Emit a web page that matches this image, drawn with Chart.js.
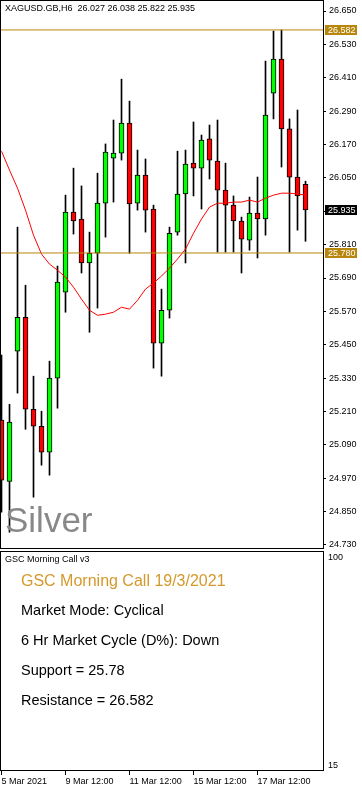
<!DOCTYPE html>
<html>
<head>
<meta charset="utf-8">
<script src="https://cdn.jsdelivr.net/npm/chart.js@4.4.0/dist/chart.umd.min.js"></script>
<style>
  body { margin: 0; width: 362px; height: 789px; background: #fff; position: relative; overflow: hidden;
         font-family: "Liberation Sans", Arial, sans-serif; }
  canvas { position: absolute; left: 0; }
  .txt { position: absolute; white-space: pre; line-height: 1; color: #000; }
</style>
</head>
<body>
<canvas id="priceChart" width="362" height="549" style="top:0"></canvas>
<canvas id="cycleChart" width="362" height="239" style="top:550px"></canvas>

<div class="txt" id="symbolLine" style="left:5px;top:4px;font-size:9px"></div>
<div class="txt" id="assetName" style="left:5px;top:502px;font-size:35px;color:#888"></div>
<div class="txt" id="panelName" style="left:5px;top:555px;font-size:9px"></div>
<div class="txt" id="callTitle" style="left:21px;top:573px;font-size:16px;color:#d4992a"></div>
<div class="txt" id="modeLine" style="left:21px;top:603px;font-size:14.5px"></div>
<div class="txt" id="cycleLine" style="left:21px;top:633px;font-size:14.5px"></div>
<div class="txt" id="supportLine" style="left:21px;top:663px;font-size:14.5px"></div>
<div class="txt" id="resistLine" style="left:21px;top:693px;font-size:14.5px"></div>

<script>
// XAGUSD H6 candles, 5 Mar 12:00 .. 19 Mar 00:00
const opens  = [25.179, 24.959, 25.427, 25.549, 25.218, 25.157, 25.064, 25.330, 25.639, 25.927,
                25.902, 25.744, 25.779, 25.959, 26.121, 26.139, 26.247, 25.959, 26.060, 25.938,
                25.456, 25.574, 25.855, 25.992, 26.103, 26.085, 26.190, 26.110, 26.006, 25.952,
                25.895, 25.826, 25.923, 25.902, 26.355, 26.477, 26.226, 26.053, 26.027];
const highs  = [25.413, 25.236, 25.873, 25.664, 25.337, 25.211, 25.391, 25.733, 25.988, 26.085,
                26.021, 25.855, 26.067, 26.172, 26.258, 26.405, 26.326, 26.150, 26.118, 25.952,
                25.650, 25.873, 26.146, 26.150, 26.251, 26.204, 26.240, 26.258, 26.103, 25.985,
                25.909, 25.981, 26.053, 26.470, 26.578, 26.582, 26.262, 26.294, 26.038];
const lows   = [24.848, 24.776, 25.276, 25.146, 24.902, 25.017, 24.981, 25.222, 25.567, 25.848,
                25.708, 25.495, 25.582, 25.837, 25.963, 26.114, 25.779, 25.934, 25.855, 25.366,
                25.337, 25.546, 25.844, 25.744, 25.985, 25.938, 26.046, 25.783, 25.783, 25.783,
                25.708, 25.790, 25.762, 25.844, 26.262, 26.089, 25.783, 25.862, 25.822];
const closes = [24.963, 25.172, 25.549, 25.218, 25.157, 25.064, 25.330, 25.675, 25.927, 25.895,
                25.744, 25.779, 25.959, 26.143, 26.139, 26.247, 25.956, 26.060, 25.934, 25.456,
                25.574, 25.851, 25.992, 26.100, 26.085, 26.186, 26.114, 26.006, 25.952, 25.895,
                25.830, 25.923, 25.902, 26.276, 26.477, 26.226, 26.053, 25.985, 25.935];
// red moving average
const maValues = [26.146, 26.078, 26.013, 25.934, 25.844, 25.776, 25.740, 25.718, 25.693, 25.657,
                  25.614, 25.574, 25.556, 25.560, 25.567, 25.585, 25.578, 25.610, 25.650, 25.672,
                  25.697, 25.726, 25.758, 25.794, 25.851, 25.902, 25.945, 25.959, 25.959, 25.963,
                  25.963, 25.970, 25.963, 25.977, 25.988, 25.995, 25.995, 25.992, 25.988];

const support = 25.78;
const resistance = 26.582;

const priceTicks = [26.650, 26.530, 26.410, 26.290, 26.170, 26.050, 25.930, 25.810, 25.690,
                    25.570, 25.450, 25.330, 25.210, 25.090, 24.970, 24.850, 24.730];
const timeTickIndex = [0, 8, 16, 24, 32];
const timeTickLabels = ['5 Mar 2021', '9 Mar 12:00', '11 Mar 12:00', '15 Mar 12:00', '17 Mar 12:00'];
const cycleTicks = [100, 15];

const symbol = 'XAGUSD.GB,H6';
const asset = 'Silver';
const panelName = 'GSC Morning Call v3';
const callDate = '19/3/2021';
const marketMode = 'Cyclical';
const cycleDir = 'Down';

// axis windows (px layout of the MT4 panels)
const xMin = -0.1875, xMax = 40.1875;
const yMin = 24.7156, yMax = 26.6896;
const cMin = 12.96, cMax = 102.86;

const gold = '#b8860b';
const last = closes.length - 1;

document.getElementById('symbolLine').textContent =
  symbol + '  ' + opens[last].toFixed(3) + ' ' + highs[last].toFixed(3) + ' ' +
  lows[last].toFixed(3) + ' ' + closes[last].toFixed(3);
document.getElementById('assetName').textContent = asset;
document.getElementById('panelName').textContent = panelName;
document.getElementById('callTitle').textContent = 'GSC Morning Call ' + callDate;
document.getElementById('modeLine').textContent = 'Market Mode: ' + marketMode;
document.getElementById('cycleLine').textContent = '6 Hr Market Cycle (D%): ' + cycleDir;
document.getElementById('supportLine').textContent = 'Support = ' + support;
document.getElementById('resistLine').textContent = 'Resistance = ' + resistance;

Chart.defaults.font.family = '"Liberation Sans", Arial, sans-serif';
Chart.defaults.font.size = 9;
Chart.defaults.color = '#000';

const panelFrame = {
  id: 'panelFrame',
  afterDraw(chart) {
    const { ctx, chartArea: a } = chart;
    ctx.save();
    ctx.strokeStyle = '#000';
    ctx.lineWidth = 1;
    ctx.strokeRect(a.left + 0.5, a.top + 0.5, a.right - a.left, a.bottom - a.top - 1);
    ctx.restore();
  }
};

const priceTags = {
  id: 'priceTags',
  afterDraw(chart) {
    const { ctx } = chart;
    const ys = chart.scales.y;
    const tags = [[resistance, gold], [closes[last], '#000'], [support, gold]];
    ctx.save();
    ctx.font = '9px "Liberation Sans", Arial, sans-serif';
    ctx.textBaseline = 'middle';
    tags.forEach(([v, bg]) => {
      const py = Math.round(ys.getPixelForValue(v));
      ctx.fillStyle = bg;
      ctx.fillRect(325, py - 5, 32, 10);
      ctx.fillStyle = '#fff';
      ctx.fillText(v.toFixed(3), 328, py + 0.5);
    });
    ctx.restore();
  }
};

const bodies = opens.map((o, i) => ({ x: i, y: [Math.min(o, closes[i]), Math.max(o, closes[i])] }));
const wicks = highs.map((h, i) => ({ x: i, y: [lows[i], h] }));
const maLine = maValues.map((v, i) => ({ x: i, y: v }));

new Chart(document.getElementById('priceChart'), {
  type: 'bar',
  data: {
    datasets: [
      { type: 'line', data: [{ x: xMin, y: support }, { x: xMax, y: support }],
        borderColor: gold, borderWidth: 1, pointRadius: 0 },
      { type: 'line', data: [{ x: xMin, y: resistance }, { x: xMax, y: resistance }],
        borderColor: gold, borderWidth: 1, pointRadius: 0 },
      { type: 'line', data: maLine, borderColor: '#ff0000', borderWidth: 1, pointRadius: 0, tension: 0 },
      { data: bodies, grouped: false, barThickness: 5, borderWidth: 1, borderColor: '#000',
        borderSkipped: false,
        backgroundColor: opens.map((o, i) => closes[i] >= o ? '#00ff00' : '#ff0000') },
      { data: wicks, grouped: false, barThickness: 1, borderWidth: 0, backgroundColor: '#000' }
    ]
  },
  options: {
    responsive: false,
    animation: false,
    layout: { padding: 0 },
    plugins: { legend: { display: false }, tooltip: { enabled: false } },
    scales: {
      x: { type: 'linear', min: xMin, max: xMax, display: false, offset: false },
      y: {
        position: 'right', min: yMin, max: yMax,
        afterBuildTicks: s => { s.ticks = priceTicks.map(v => ({ value: v })); },
        afterFit: s => { s.width = 39; s.paddingTop = 0; s.paddingBottom = 0; },
        grid: { drawOnChartArea: false, drawTicks: true, tickLength: 3, color: '#000' },
        border: { display: false },
        ticks: { padding: 3, callback: v => v.toFixed(3) }
      }
    }
  },
  plugins: [panelFrame, priceTags]
});

new Chart(document.getElementById('cycleChart'), {
  type: 'line',
  data: { datasets: [{ data: [] }] },
  options: {
    responsive: false,
    animation: false,
    layout: { padding: { top: 1 } },
    plugins: { legend: { display: false }, tooltip: { enabled: false } },
    scales: {
      x: {
        type: 'linear', min: xMin, max: xMax,
        afterBuildTicks: s => { s.ticks = timeTickIndex.map(v => ({ value: v })); },
        afterFit: s => { s.height = 18; s.paddingLeft = 0; s.paddingRight = 0; },
        grid: { drawOnChartArea: false, tickLength: 4, color: '#000' },
        border: { display: false },
        ticks: { align: 'start', maxRotation: 0, autoSkip: false, padding: 1,
                 callback: v => timeTickLabels[timeTickIndex.indexOf(v)] }
      },
      y: {
        position: 'right', min: cMin, max: cMax,
        afterBuildTicks: s => { s.ticks = cycleTicks.map(v => ({ value: v })); },
        afterFit: s => { s.width = 39; s.paddingTop = 0; s.paddingBottom = 0; },
        grid: { display: false, drawTicks: false },
        border: { display: false },
        ticks: { padding: 5 }
      }
    }
  },
  plugins: [panelFrame]
});
</script>
</body>
</html>
